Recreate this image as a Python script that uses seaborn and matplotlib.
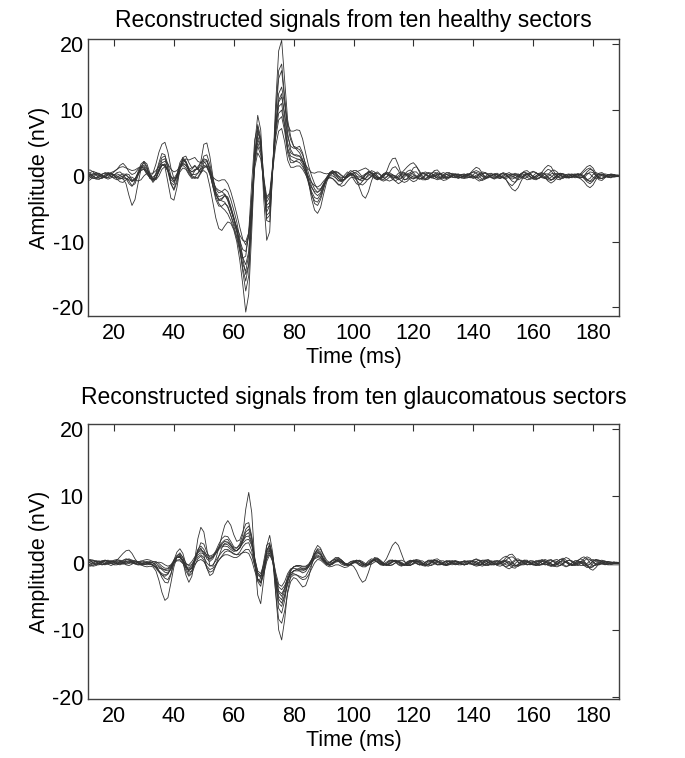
import numpy as np
import pandas as pd
import matplotlib
matplotlib.use("Agg")
import matplotlib.pyplot as plt
import seaborn as sns

# ---------------- data (amplitude in nV, sampled every 1 ms from t = 11 ms) ----------------
t_start = 11

healthy_1 = [0.8, 0.9, 0.6, 0.1, -0.3, -0.4, -0.1, 0.3, 0.4, 0.1,
    -0.3, -0.5, -0.2, 0.3, 0.2, -0.6, -0.8, 0.2, 1.5, 2.0,
    1.2, -0.2, -1.0, -0.4, 1.0, 2.4, 2.6, 1.0, -1.2, -2.0,
    -0.6, 1.4, 2.6, 2.0, 0.6, 0.0, 0.8, 1.2, 0.6, 0.8,
    0.4, -1.6, -4.0, -6.4, -8.0, -8.3, -7.6, -7.0, -7.2, -8.2,
    -10.0, -12.8, -16.5, -20.7, -18.0, -8.5, 2.5, 7.8, 5.8, -3.5,
    -9.8, -8.5, 1.0, 11.0, 19.0, 20.6, 14.5, 8.5, 6.0, 4.5,
    4.3, 4.5, 3.5, 1.6, -1.0, -3.5, -5.2, -5.7, -4.8, -2.8,
    -1.0, 0.2, 0.4, -0.2, -0.8, -0.6, 0.1, 0.6, 0.3, -0.5,
    -1.2, -1.4, -0.8, 0.2, 0.7, 0.4, -0.3, -0.6, -0.2, 0.3,
    0.4, 0.0, -0.5, -0.8, -0.4, 0.3, 0.5, 0.2, -0.3, -0.5,
    -0.2, 0.3, 0.5, 0.2, -0.2, -0.3, 0.0, 0.3, 0.2, -0.2,
    -0.4, -0.1, 0.2, 0.3, 0.0, -0.3, -0.3, 0.1, 0.4, 0.6,
    0.4, -0.1, -0.5, -0.4, 0.0, 0.3, 0.2, -0.2, -0.4, -0.1,
    0.3, 0.5, 0.2, -0.3, -0.6, -0.4, 0.1, 0.4, 0.3, -0.1,
    -0.4, -0.3, 0.1, 0.6, 1.0, 0.8, 0.1, -0.5, -0.6, -0.2,
    0.2, 0.3, 0.0, -0.3, -0.2, 0.2, 0.6, 1.0, 1.2, 0.8,
    0.0, -0.6, -0.7, -0.3, 0.1, 0.3, 0.2, 0.0, -0.1]

healthy_2 = [0.2, 0.5, 0.7, 0.5, 0.1, -0.2, -0.2, 0.1, 0.3, 0.2,
    0.0, -0.3, -0.5, -0.4, -0.8, -1.5, -1.2, 0.0, 1.2, 1.4,
    0.6, -0.4, -0.6, 0.4, 2.0, 3.4, 3.2, 1.2, -1.0, -1.4,
    0.2, 2.0, 2.8, 2.2, 1.2, 1.0, 1.5, 1.0, 2.2, 4.8,
    5.0, 3.0, 0.0, -2.6, -3.8, -3.6, -3.0, -3.2, -4.6, -6.2,
    -8.0, -10.8, -14.5, -17.5, -15.2, -6.0, 4.8, 9.2, 7.0, -1.0,
    -6.8, -7.0, 0.5, 9.5, 16.0, 17.0, 12.0, 7.5, 5.5, 4.5,
    4.0, 3.5, 2.5, 1.0, -0.8, -2.8, -4.2, -4.5, -3.6, -2.0,
    -0.5, 0.5, 0.8, 0.3, -0.4, -0.8, -0.5, 0.3, 0.8, 0.6,
    0.0, -0.6, -0.8, -0.4, 0.3, 0.8, 0.6, 0.0, -0.5, -0.6,
    -0.2, 0.5, 1.2, 1.4, 0.8, -0.1, -0.6, -0.5, 0.1, 0.6,
    0.6, 0.1, -0.4, -0.5, -0.1, 0.4, 0.6, 0.3, -0.2, -0.4,
    -0.2, 0.2, 0.4, 0.2, -0.2, -0.3, 0.0, 0.3, 0.3, 0.0,
    -0.3, -0.2, 0.2, 0.5, 0.3, -0.2, -0.5, -0.3, 0.2, 0.5,
    0.3, -0.3, -0.8, -1.0, -0.5, 0.2, 0.6, 0.4, -0.1, -0.4,
    -0.3, 0.1, 0.4, 0.3, -0.2, -0.6, -0.5, 0.0, 0.4, 0.3,
    -0.1, -0.3, -0.1, 0.2, 0.3, 0.1, -0.4, -0.9, -1.2, -0.8,
    -0.1, 0.4, 0.5, 0.2, -0.2, -0.3, -0.1, 0.1, 0.1]

healthy_3 = [-0.5, -0.3, 0.1, 0.4, 0.4, 0.1, -0.3, -0.5, -0.3, 0.1,
    0.5, 0.6, 0.2, -0.4, -1.2, -1.6, -0.8, 0.6, 1.8, 2.2,
    1.4, 0.0, -0.8, -0.4, 0.8, 1.8, 1.4, -1.0, -3.4, -3.7,
    -1.8, 1.0, 2.8, 3.0, 2.0, 1.2, 1.6, 1.0, 0.4, 1.2,
    1.6, 0.4, -1.6, -3.2, -4.2, -4.8, -5.2, -5.8, -6.8, -8.0,
    -9.5, -11.5, -14.0, -16.0, -13.5, -5.0, 3.5, 7.0, 5.2, -1.8,
    -6.5, -6.0, 1.5, 9.0, 14.8, 16.0, 11.5, 6.5, 4.0, 3.2,
    3.2, 3.0, 2.2, 0.8, -0.8, -2.4, -3.3, -3.5, -2.8, -1.6,
    -0.6, -0.2, -0.4, -0.9, -1.4, -1.2, -0.5, 0.2, 0.4, 0.1,
    -0.6, -1.8, -3.0, -3.4, -2.4, -0.8, 0.4, 0.6, 0.2, -0.2,
    -0.2, 0.1, 0.2, -0.1, -0.4, -0.3, 0.1, 0.3, 0.1, -0.2,
    -0.3, 0.0, 0.3, 0.3, 0.0, -0.2, -0.1, 0.2, 0.4, 0.2,
    -0.2, -0.3, -0.1, 0.2, 0.3, 0.1, -0.2, -0.3, -0.2, 0.2,
    0.5, 0.4, -0.1, -0.4, -0.3, 0.1, 0.3, 0.2, -0.1, -0.3,
    -0.6, -1.2, -1.5, -1.0, -0.2, 0.4, 0.5, 0.2, -0.2, -0.3,
    0.0, 0.3, 0.2, -0.2, -0.6, -0.7, -0.3, 0.2, 0.3, 0.1,
    -0.2, -0.3, -0.1, 0.2, 0.3, 0.1, -0.3, -0.7, -0.8, -0.4,
    0.1, 0.3, 0.2, -0.1, -0.2, 0.0, 0.2, 0.1, 0.0]

healthy_4 = [0.0, 0.2, 0.3, 0.2, 0.0, -0.2, -0.1, 0.2, 0.5, 0.7,
    1.0, 1.6, 1.9, 1.4, 0.6, 0.2, 0.4, 1.0, 1.4, 1.0,
    0.2, -0.2, 0.4, 1.8, 3.6, 4.8, 5.1, 3.6, 1.2, -0.4,
    -0.2, 1.0, 2.0, 2.6, 2.4, 2.6, 2.8, 2.2, 2.0, 2.6,
    2.4, 1.2, -0.6, -2.0, -2.6, -2.4, -2.0, -2.4, -3.6, -5.2,
    -7.0, -9.5, -12.5, -15.0, -13.5, -6.5, 2.0, 6.5, 5.5, 0.0,
    -4.8, -4.6, 1.0, 7.5, 12.5, 13.5, 10.8, 7.8, 6.8, 6.8,
    7.0, 6.9, 5.6, 3.5, 1.5, 0.0, -1.2, -2.0, -2.0, -1.4,
    -0.6, 0.0, 0.4, 0.6, 0.4, 0.0, -0.3, -0.2, 0.2, 0.5,
    0.4, 0.0, -0.4, -0.4, 0.0, 0.4, 0.3, -0.2, -0.5, -0.2,
    0.6, 1.8, 2.6, 2.7, 1.6, 0.2, -0.6, -0.4, 0.4, 1.2,
    1.4, 0.8, 0.0, -0.4, -0.2, 0.3, 0.8, 0.9, 0.4, -0.2,
    -0.4, -0.2, 0.1, 0.3, 0.2, -0.1, -0.2, 0.0, 0.4, 0.9,
    1.3, 1.1, 0.4, -0.2, -0.3, 0.0, 0.2, 0.1, -0.2, -0.3,
    -0.1, 0.2, 0.3, 0.1, -0.2, -0.2, 0.1, 0.3, 0.2, -0.1,
    -0.2, 0.1, 0.6, 1.2, 1.6, 1.4, 0.6, -0.1, -0.4, -0.2,
    0.1, 0.2, 0.0, -0.2, 0.0, 0.4, 0.9, 1.4, 1.6, 1.2,
    0.4, -0.2, -0.4, -0.2, 0.1, 0.2, 0.1, 0.0, 0.0]

healthy_5 = [0.4, 0.2, -0.1, -0.4, -0.5, -0.3, 0.1, 0.4, 0.3, 0.0,
    -0.2, -0.2, 0.0, 0.1, -0.3, -0.9, -0.6, 0.4, 1.3, 1.6,
    1.0, 0.0, -0.6, -0.2, 0.8, 1.6, 1.8, 0.8, -0.6, -1.0,
    0.0, 1.4, 2.0, 1.6, 0.8, 0.2, 0.2, 0.4, 1.2, 2.4,
    2.4, 1.0, -1.0, -2.8, -3.6, -3.4, -3.0, -3.6, -5.0, -6.6,
    -8.6, -11.0, -13.4, -14.5, -12.0, -4.0, 3.5, 6.0, 4.6, -1.5,
    -6.0, -5.5, 1.0, 7.5, 11.5, 12.5, 9.0, 5.0, 3.5, 3.2,
    3.0, 3.0, 2.4, 1.2, -0.2, -1.6, -2.6, -3.0, -2.6, -1.4,
    -0.4, 0.3, 0.6, 0.4, 0.0, -0.3, -0.2, 0.2, 0.4, 0.2,
    -0.3, -0.6, -0.4, 0.1, 0.5, 0.6, 0.2, -0.3, -0.4, 0.0,
    0.4, 0.5, 0.2, -0.3, -0.6, -0.4, 0.2, 0.7, 0.9, 0.5,
    -0.1, -0.5, -0.4, 0.0, 0.4, 0.4, 0.0, -0.4, -0.5, -0.2,
    0.2, 0.4, 0.2, -0.1, -0.3, -0.2, 0.1, 0.3, 0.2, -0.1,
    -0.5, -0.8, -0.6, -0.1, 0.3, 0.4, 0.1, -0.2, -0.2, 0.1,
    0.3, 0.2, -0.1, -0.3, -0.1, 0.3, 0.7, 0.8, 0.4, -0.2,
    -0.5, -0.4, 0.0, 0.3, 0.3, 0.0, -0.3, -0.2, 0.1, 0.3,
    0.2, -0.1, -0.3, -0.1, 0.2, 0.3, 0.0, -0.5, -0.9, -0.7,
    -0.2, 0.2, 0.3, 0.1, -0.1, -0.2, 0.0, 0.1, 0.1]

healthy_6 = [-0.8, -0.6, -0.2, 0.2, 0.3, 0.1, -0.2, -0.3, -0.1, 0.2,
    0.3, 0.1, -0.2, -0.4, -0.6, -0.8, -0.4, 0.4, 1.0, 1.0,
    0.4, -0.4, -0.6, 0.2, 1.6, 2.8, 3.0, 1.8, 0.0, -0.8,
    0.0, 1.6, 2.4, 2.0, 1.0, 0.6, 1.0, 1.0, 1.6, 3.0,
    3.2, 1.8, -0.4, -2.4, -3.2, -3.0, -2.8, -3.4, -4.8, -6.4,
    -8.0, -10.2, -12.4, -13.5, -11.5, -4.5, 2.8, 5.5, 4.4, -0.8,
    -4.5, -4.0, 1.5, 7.5, 11.2, 12.0, 9.5, 6.0, 4.5, 4.2,
    4.2, 4.0, 3.2, 1.8, 0.4, -1.0, -2.0, -2.5, -2.2, -1.2,
    -0.2, 0.4, 0.5, 0.1, -0.4, -0.7, -0.5, 0.0, 0.5, 0.8,
    0.8, 0.4, -0.2, -0.6, -0.5, -0.1, 0.3, 0.4, 0.1, -0.3,
    -0.6, -0.8, -0.6, -0.1, 0.4, 0.6, 0.4, -0.1, -0.6, -0.9,
    -0.7, -0.1, 0.4, 0.6, 0.4, 0.0, -0.4, -0.6, -0.4, 0.1,
    0.5, 0.5, 0.2, -0.2, -0.4, -0.2, 0.1, 0.2, 0.0, -0.2,
    -0.2, 0.1, 0.4, 0.4, 0.1, -0.2, -0.3, -0.1, 0.2, 0.3,
    0.1, -0.3, -0.5, -0.3, 0.1, 0.3, 0.2, -0.2, -0.5, -0.4,
    0.0, 0.4, 0.5, 0.2, -0.3, -0.6, -0.4, 0.1, 0.4, 0.3,
    0.0, -0.3, -0.2, 0.1, 0.3, 0.2, -0.2, -0.6, -0.4, 0.2,
    0.5, 0.3, 0.0, -0.2, -0.1, 0.1, 0.2, 0.0, -0.1]

healthy_7 = [0.6, 0.4, 0.0, -0.3, -0.2, 0.2, 0.5, 0.4, 0.0, -0.4,
    -0.6, -0.4, -0.4, -1.2, -3.0, -4.5, -3.6, -1.2, 1.0, 2.2,
    1.8, 0.4, -0.6, -0.4, 0.6, 1.6, 1.8, 0.6, -1.2, -2.2,
    -1.0, 1.0, 2.4, 2.2, 1.0, 0.0, -0.2, -0.4, 0.4, 2.0,
    2.2, 0.8, -1.6, -3.6, -4.6, -4.6, -4.2, -4.6, -6.0, -7.6,
    -9.2, -11.0, -12.5, -12.2, -8.5, -1.0, 5.5, 7.5, 5.0, -1.5,
    -5.5, -4.5, 1.5, 7.0, 10.5, 11.0, 7.8, 4.2, 3.0, 2.8,
    2.6, 2.5, 1.8, 0.4, -1.2, -2.8, -3.8, -4.0, -3.2, -1.8,
    -0.5, 0.4, 0.8, 0.5, -0.1, -0.5, -0.6, -0.2, 0.2, 0.0,
    -0.4, -0.6, -0.3, 0.3, 0.6, 0.4, -0.1, -0.4, -0.2, 0.3,
    0.6, 0.3, -0.3, -0.8, -1.2, -0.9, -0.2, 0.3, 0.5, 0.2,
    -0.3, -0.5, -0.3, 0.2, 0.5, 0.4, 0.0, -0.3, -0.2, 0.1,
    0.2, 0.1, -0.2, -0.3, -0.1, 0.2, 0.3, 0.1, -0.2, -0.4,
    -0.2, 0.3, 0.6, 0.5, 0.1, -0.3, -0.4, -0.1, 0.3, 0.4,
    0.1, -0.2, -0.2, 0.1, 0.3, 0.1, -0.3, -0.6, -0.5, 0.0,
    0.4, 0.3, -0.1, -0.4, -0.5, -0.2, 0.2, 0.4, 0.2, -0.1,
    -0.3, -0.1, 0.2, 0.3, 0.1, -0.2, -0.3, 0.2, 0.6, 0.5,
    0.0, -0.4, -0.4, -0.1, 0.2, 0.2, 0.0, -0.1, 0.0]

healthy_8 = [0.1, -0.2, -0.4, -0.3, 0.0, 0.3, 0.4, 0.2, -0.1, -0.3,
    -0.2, 0.1, 0.3, 0.2, -0.3, -0.7, -0.5, 0.2, 0.8, 1.0,
    0.6, 0.0, -0.2, 0.2, 1.0, 1.6, 1.6, 0.8, -0.2, -0.4,
    0.3, 1.2, 1.6, 1.2, 0.4, -0.2, -0.4, -0.2, 0.6, 1.4,
    1.3, 0.2, -1.4, -2.8, -3.6, -3.8, -4.0, -4.8, -6.0, -7.2,
    -8.4, -9.8, -11.2, -11.5, -9.2, -3.2, 2.5, 5.0, 3.8, -0.2,
    -3.2, -2.6, 1.8, 6.5, 9.5, 10.0, 7.5, 4.0, 2.5, 2.2,
    2.2, 2.0, 1.4, 0.6, -0.2, -1.0, -1.5, -1.7, -1.4, -0.8,
    -0.3, 0.0, 0.0, -0.3, -0.7, -0.9, -0.6, 0.0, 0.3, 0.2,
    -0.1, -0.2, 0.0, 0.3, 0.3, 0.0, -0.4, -0.6, -0.4, 0.0,
    0.3, 0.2, -0.1, -0.3, -0.2, 0.1, 0.3, 0.1, -0.2, -0.4,
    -0.3, 0.1, 0.4, 0.3, 0.0, -0.3, -0.4, -0.1, 0.3, 0.5,
    0.3, 0.0, -0.2, -0.2, 0.0, 0.2, 0.2, -0.1, -0.3, -0.2,
    0.1, 0.2, 0.0, -0.2, -0.2, 0.0, 0.3, 0.4, 0.1, -0.3,
    -0.4, -0.2, 0.2, 0.4, 0.2, -0.2, -0.4, -0.2, 0.3, 0.6,
    0.5, 0.1, -0.3, -0.4, -0.1, 0.3, 0.4, 0.1, -0.3, -0.4,
    -0.1, 0.2, 0.3, 0.0, -0.3, -0.3, 0.0, 0.4, 0.3, -0.2,
    -0.4, -0.2, 0.1, 0.3, 0.2, 0.0, -0.2, -0.1, 0.0]

healthy_9 = [-0.3, 0.0, 0.3, 0.5, 0.3, 0.0, -0.3, -0.2, 0.2, 0.6,
    1.0, 1.3, 1.4, 1.2, 1.0, 0.8, 0.9, 1.2, 1.4, 1.2,
    0.8, 0.4, 0.4, 0.8, 1.4, 2.0, 2.2, 1.8, 1.0, 0.6,
    0.8, 1.4, 1.8, 1.6, 1.0, 0.6, 0.8, 1.4, 2.0, 2.2,
    1.6, 0.6, -0.2, -0.6, -0.8, -0.6, -0.6, -1.2, -2.4, -4.0,
    -5.8, -7.8, -9.6, -10.5, -9.0, -4.0, 1.8, 4.5, 3.2, -1.0,
    -4.0, -3.2, 1.0, 5.8, 8.5, 9.0, 6.8, 3.5, 2.0, 2.0,
    2.4, 2.5, 2.2, 1.6, 1.0, 0.5, 0.4, 0.6, 0.6, 0.4,
    0.3, 0.4, 0.6, 0.7, 0.5, 0.1, -0.2, -0.2, 0.1, 0.4,
    0.6, 0.8, 1.0, 1.2, 0.9, 0.3, -0.2, -0.4, -0.2, 0.2,
    0.3, 0.0, -0.3, -0.3, 0.0, 0.4, 0.9, 1.4, 1.8, 2.0,
    1.5, 0.6, -0.2, -0.6, -0.5, -0.1, 0.3, 0.5, 0.3, 0.0,
    -0.2, -0.2, 0.0, 0.2, 0.2, 0.0, -0.1, 0.0, 0.3, 0.6,
    0.8, 0.6, 0.2, -0.1, -0.2, 0.0, 0.2, 0.2, 0.0, -0.2,
    -0.2, 0.0, 0.2, 0.2, 0.0, -0.2, -0.1, 0.2, 0.5, 0.7,
    0.5, 0.1, -0.2, -0.2, 0.2, 0.7, 0.9, 0.6, 0.1, -0.2,
    -0.2, 0.0, 0.2, 0.1, -0.2, -0.3, 0.0, 0.6, 1.0, 0.8,
    0.2, -0.3, -0.4, -0.2, 0.1, 0.2, 0.1, 0.0, 0.0]

healthy_10 = [0.2, 0.0, -0.3, -0.5, -0.5, -0.2, 0.2, 0.5, 0.4, 0.0,
    -0.5, -0.9, -1.0, -0.6, -0.2, -0.2, -0.5, -0.8, -0.6, 0.0,
    0.4, 0.2, -0.4, -0.6, 0.0, 1.0, 1.4, 0.8, -0.2, -0.8,
    -0.4, 0.6, 1.2, 1.0, 0.2, -0.4, -0.2, 0.4, 1.0, 1.6,
    1.4, 0.4, -0.8, -1.8, -2.2, -2.4, -2.8, -3.8, -5.2, -6.6,
    -7.8, -9.0, -9.8, -10.0, -8.6, -3.8, 1.2, 3.5, 2.6, -0.8,
    -3.5, -2.8, 0.8, 4.5, 6.8, 7.2, 5.2, 2.4, 1.3, 1.3,
    1.5, 1.5, 1.0, 0.2, -0.8, -1.8, -2.4, -2.5, -2.0, -1.2,
    -0.6, -0.3, -0.4, -0.8, -1.3, -1.6, -1.4, -0.8, -0.3, -0.2,
    -0.6, -1.2, -1.4, -1.0, -0.4, 0.0, 0.1, -0.2, -0.6, -0.8,
    -0.6, -0.2, 0.1, 0.0, -0.4, -0.8, -1.0, -0.8, -0.3, 0.0,
    0.0, -0.3, -0.6, -0.6, -0.4, 0.0, 0.2, 0.0, -0.4, -0.7,
    -0.6, -0.3, 0.0, 0.1, -0.1, -0.3, -0.4, -0.3, -0.1, 0.0,
    -0.2, -0.5, -0.7, -0.5, -0.2, 0.0, -0.1, -0.3, -0.4, -0.2,
    -0.6, -1.4, -2.0, -2.3, -1.8, -0.8, 0.0, 0.2, -0.1, -0.5,
    -0.6, -0.3, -0.1, -0.3, -0.8, -1.1, -0.8, -0.3, 0.0, -0.1,
    -0.3, -0.3, -0.1, 0.0, -0.2, -0.5, -0.9, -1.5, -1.8, -1.4,
    -0.6, 0.0, 0.2, 0.0, -0.2, -0.2, 0.0, 0.1, 0.0]

glauc_1 = [0.3, 0.5, 0.4, 0.1, -0.2, -0.3, -0.1, 0.2, 0.3, 0.2,
    0.0, -0.2, 0.0, 0.4, 0.6, 0.4, 0.0, -0.3, -0.3, -0.1,
    0.1, 0.2, 0.0, -0.3, -0.6, -1.0, -1.4, -1.5, -1.0, 0.0,
    0.8, 1.0, 0.4, -0.6, -1.2, -0.8, 0.6, 2.0, 2.5, 2.0,
    1.0, 0.5, 0.8, 1.6, 2.4, 3.0, 3.4, 3.5, 2.8, 2.2,
    2.2, 2.8, 4.2, 8.0, 10.5, 7.5, 0.5, -4.8, -6.1, -2.5,
    2.5, 4.1, 1.5, -4.5, -10.0, -11.5, -8.5, -4.2, -2.0, -1.2,
    -1.0, -1.2, -1.5, -1.3, -0.6, 0.4, 1.4, 1.8, 1.3, 0.4,
    -0.2, 0.0, 0.4, 0.5, 0.2, -0.2, -0.4, -0.2, 0.2, 0.3,
    0.0, -0.4, -0.5, -0.2, 0.3, 0.6, 0.5, 0.1, -0.3, -0.4,
    -0.1, 0.3, 0.4, 0.2, -0.2, -0.4, -0.2, 0.2, 0.4, 0.2,
    -0.1, -0.3, -0.2, 0.1, 0.3, 0.2, -0.1, -0.3, -0.2, 0.1,
    0.3, 0.2, -0.1, -0.3, -0.2, 0.1, 0.3, 0.2, -0.1, -0.3,
    -0.3, 0.0, 0.3, 0.3, 0.0, -0.3, -0.3, 0.0, 0.4, 0.8,
    1.0, 0.7, 0.1, -0.4, -0.5, -0.2, 0.2, 0.3, 0.1, -0.2,
    -0.3, -0.1, 0.2, 0.3, 0.1, -0.2, -0.3, -0.1, 0.2, 0.3,
    0.1, -0.2, -0.3, -0.1, 0.3, 0.7, 0.9, 0.6, 0.0, -0.4,
    -0.4, -0.1, 0.2, 0.2, 0.0, -0.2, -0.1, 0.0, 0.1]

glauc_2 = [-0.4, -0.2, 0.1, 0.3, 0.2, 0.0, -0.2, -0.1, 0.2, 0.4,
    0.5, 0.3, 0.0, -0.2, -0.1, 0.1, 0.2, 0.0, -0.3, -0.5,
    -0.6, -0.5, -0.6, -1.2, -2.6, -4.4, -5.6, -5.2, -3.0, -0.6,
    0.8, 1.2, 0.2, -1.8, -2.9, -2.0, 0.6, 3.6, 5.3, 4.6,
    2.0, -0.4, -0.5, 0.6, 2.2, 4.0, 5.6, 6.3, 5.6, 4.2,
    3.2, 3.4, 4.6, 5.8, 6.0, 4.0, 0.2, -2.5, -2.4, 0.2,
    2.6, 3.0, 0.5, -4.5, -8.4, -9.0, -7.2, -4.5, -2.8, -2.2,
    -2.4, -3.0, -3.6, -3.4, -2.2, -0.4, 1.2, 2.0, 1.6, 0.6,
    -0.2, -0.4, -0.1, 0.3, 0.4, 0.2, -0.1, -0.3, -0.3, -0.5,
    -1.2, -2.2, -2.9, -2.6, -1.4, 0.0, 0.8, 0.7, 0.2, -0.2,
    -0.3, -0.1, 0.2, 0.3, 0.1, -0.2, -0.3, -0.1, 0.2, 0.4,
    0.3, 0.0, -0.3, -0.4, -0.2, 0.2, 0.5, 0.6, 0.3, -0.1,
    -0.3, -0.2, 0.1, 0.3, 0.2, -0.1, -0.3, -0.2, 0.1, 0.4,
    0.5, 0.3, -0.1, -0.4, -0.4, -0.1, 0.2, 0.3, 0.1, -0.3,
    -0.7, -0.9, -0.6, -0.1, 0.3, 0.4, 0.1, -0.2, -0.3, -0.1,
    0.2, 0.4, 0.3, -0.1, -0.4, -0.5, -0.2, 0.2, 0.5, 0.5,
    0.1, -0.3, -0.4, -0.2, 0.1, 0.2, 0.0, -0.4, -0.8, -0.6,
    -0.1, 0.3, 0.4, 0.2, -0.1, -0.2, -0.1, 0.0, 0.0]

glauc_3 = [0.0, -0.3, -0.5, -0.4, -0.1, 0.2, 0.3, 0.1, -0.1, 0.0,
    0.4, 0.9, 1.4, 1.8, 1.9, 1.4, 0.6, 0.0, -0.3, -0.3,
    -0.1, 0.1, 0.0, -0.4, -1.2, -2.2, -2.9, -3.0, -1.8, 0.4,
    1.6, 2.1, 1.4, -0.2, -1.4, -1.2, 0.2, 1.8, 3.0, 2.8,
    1.6, 0.8, 1.0, 1.8, 2.8, 3.6, 4.0, 3.9, 3.2, 2.4,
    2.2, 2.6, 3.6, 5.0, 5.5, 3.8, 0.2, -2.8, -3.5, -1.2,
    1.8, 2.8, 1.0, -3.2, -6.8, -7.5, -5.6, -2.8, -1.2, -0.6,
    -0.5, -0.6, -0.9, -1.0, -0.6, 0.4, 1.8, 2.6, 2.2, 1.0,
    0.0, -0.4, -0.2, 0.3, 0.6, 0.4, 0.0, -0.3, -0.3, 0.0,
    0.3, 0.3, 0.0, -0.3, -0.2, 0.2, 0.4, 0.2, -0.1, 0.0,
    0.6, 1.6, 2.6, 3.1, 2.6, 1.4, 0.2, -0.4, -0.4, 0.0,
    0.3, 0.3, 0.0, -0.3, -0.3, 0.0, 0.3, 0.3, 0.0, -0.3,
    -0.3, 0.0, 0.3, 0.3, 0.0, -0.2, -0.2, 0.1, 0.3, 0.2,
    -0.1, -0.3, -0.2, 0.1, 0.3, 0.2, -0.1, -0.2, 0.0, 0.3,
    0.8, 1.2, 1.3, 0.8, 0.1, -0.3, -0.3, 0.0, 0.3, 0.3,
    0.0, -0.3, -0.3, 0.0, 0.3, 0.4, 0.1, -0.3, -0.4, -0.1,
    0.2, 0.4, 0.3, 0.0, -0.1, 0.2, 0.6, 0.9, 0.7, 0.2,
    -0.2, -0.3, -0.1, 0.1, 0.2, 0.1, 0.0, -0.1, 0.0]

glauc_4 = [0.5, 0.3, 0.0, -0.2, -0.1, 0.2, 0.4, 0.3, 0.0, -0.2,
    -0.1, 0.2, 0.4, 0.6, 0.5, 0.2, -0.1, -0.2, -0.1, 0.1,
    0.2, 0.0, -0.3, -0.6, -1.2, -1.8, -2.3, -2.5, -1.6, -0.2,
    1.0, 1.5, 0.8, -0.8, -1.8, -1.2, 0.4, 1.8, 2.2, 1.2,
    -0.8, -1.9, -1.6, -0.4, 1.0, 2.2, 2.9, 3.0, 2.6, 2.0,
    1.8, 2.3, 3.4, 4.6, 5.0, 3.6, 0.8, -1.5, -2.0, -0.5,
    1.8, 2.5, 0.8, -3.0, -6.0, -6.5, -5.0, -2.8, -1.6, -1.2,
    -1.0, -0.8, -0.8, -0.8, -0.5, 0.2, 1.0, 1.5, 1.2, 0.5,
    0.0, 0.0, 0.3, 0.6, 0.7, 0.4, 0.0, -0.3, -0.2, 0.1,
    0.3, 0.2, -0.1, -0.3, -0.1, 0.3, 0.6, 0.5, 0.1, -0.3,
    -0.4, -0.2, 0.1, 0.3, 0.2, -0.1, -0.3, -0.2, 0.1, 0.3,
    0.2, -0.1, -0.4, -0.5, -0.2, 0.2, 0.4, 0.3, 0.0, -0.2,
    -0.2, 0.0, 0.2, 0.2, 0.0, -0.2, -0.3, -0.1, 0.2, 0.4,
    0.6, 0.4, 0.0, -0.3, -0.3, 0.0, 0.3, 0.3, 0.0, -0.4,
    -0.6, -0.4, 0.1, 0.5, 0.6, 0.3, -0.1, -0.3, -0.2, 0.1,
    0.3, 0.2, -0.1, -0.3, -0.2, 0.1, 0.4, 0.5, 0.2, -0.2,
    -0.5, -0.4, 0.0, 0.3, 0.3, 0.0, -0.4, -0.7, -0.6, -0.1,
    0.3, 0.4, 0.2, -0.1, -0.2, -0.1, 0.1, 0.1, 0.0]

glauc_5 = [-0.2, 0.1, 0.3, 0.3, 0.1, -0.2, -0.3, -0.1, 0.2, 0.3,
    0.2, 0.0, -0.2, -0.1, 0.2, 0.4, 0.3, 0.0, -0.2, -0.2,
    -0.1, -0.2, -0.4, -0.8, -1.4, -1.8, -2.0, -1.7, -0.8, 0.2,
    0.8, 0.8, 0.2, -0.5, -0.8, -0.4, 0.6, 1.6, 2.0, 1.6,
    0.6, 0.2, 0.6, 1.4, 2.2, 2.8, 3.2, 3.1, 2.6, 2.0,
    1.8, 2.2, 3.2, 4.2, 4.5, 3.0, 0.0, -2.4, -3.0, -1.2,
    1.2, 2.0, 0.4, -2.8, -5.4, -6.0, -4.8, -3.2, -2.2, -1.8,
    -1.8, -2.0, -2.2, -2.0, -1.2, -0.2, 0.8, 1.2, 0.9, 0.3,
    -0.2, -0.3, 0.0, 0.4, 0.5, 0.2, -0.2, -0.4, -0.2, 0.2,
    0.4, 0.3, 0.0, -0.3, -0.3, 0.1, 0.5, 0.6, 0.3, -0.1,
    -0.3, -0.2, 0.1, 0.3, 0.3, 0.0, -0.3, -0.4, -0.1, 0.3,
    0.5, 0.4, 0.0, -0.3, -0.3, 0.0, 0.3, 0.3, 0.0, -0.3,
    -0.4, -0.2, 0.1, 0.3, 0.2, -0.1, -0.3, -0.2, 0.1, 0.3,
    0.2, -0.1, -0.3, -0.2, 0.1, 0.3, 0.2, -0.1, -0.2, 0.0,
    0.4, 0.8, 0.9, 0.6, 0.1, -0.2, -0.2, 0.1, 0.3, 0.2,
    -0.1, -0.3, -0.2, 0.1, 0.4, 0.5, 0.2, -0.2, -0.4, -0.2,
    0.2, 0.4, 0.2, -0.1, -0.3, -0.4, -0.4, -0.1, 0.3, 0.5,
    0.3, 0.0, -0.2, -0.2, 0.0, 0.1, 0.1, 0.0, 0.0]

glauc_6 = [0.7, 0.4, 0.0, -0.3, -0.3, 0.0, 0.3, 0.4, 0.2, 0.0,
    -0.1, 0.0, 0.3, 0.5, 0.4, 0.1, -0.1, 0.0, 0.2, 0.4,
    0.5, 0.4, 0.2, 0.0, -0.4, -0.8, -1.1, -1.2, -0.6, 0.4,
    1.1, 1.3, 0.8, 0.0, -0.5, -0.2, 0.5, 1.2, 1.5, 1.3,
    0.8, 0.6, 0.9, 1.4, 2.0, 2.4, 2.5, 2.4, 2.0, 1.7,
    1.8, 2.3, 3.2, 3.9, 4.0, 2.8, 0.4, -1.5, -2.0, -0.6,
    1.5, 2.2, 0.8, -2.4, -5.0, -5.5, -4.2, -2.4, -1.2, -0.6,
    -0.4, -0.4, -0.5, -0.5, -0.2, 0.5, 1.4, 2.1, 2.0, 1.2,
    0.4, 0.0, 0.0, 0.2, 0.3, 0.1, -0.2, -0.3, -0.1, 0.2,
    0.4, 0.2, -0.2, -0.4, -0.2, 0.2, 0.5, 0.4, 0.0, -0.3,
    -0.3, 0.0, 0.3, 0.4, 0.2, -0.2, -0.4, -0.3, 0.1, 0.4,
    0.4, 0.1, -0.2, -0.2, 0.1, 0.4, 0.4, 0.1, -0.2, -0.3,
    0.0, 0.3, 0.3, 0.0, -0.3, -0.3, 0.0, 0.3, 0.3, 0.0,
    -0.3, -0.4, -0.1, 0.3, 0.4, 0.1, -0.2, -0.3, 0.0, 0.3,
    0.4, 0.1, -0.3, -0.5, -0.3, 0.1, 0.4, 0.4, 0.0, -0.3,
    -0.4, -0.1, 0.3, 0.5, 0.3, -0.1, -0.4, -0.3, 0.1, 0.5,
    0.8, 0.6, 0.1, -0.3, -0.4, -0.1, 0.3, 0.6, 0.5, 0.1,
    -0.2, -0.3, -0.1, 0.1, 0.2, 0.1, 0.0, 0.0, 0.0]

glauc_7 = [0.1, 0.3, 0.4, 0.2, -0.1, -0.3, -0.2, 0.1, 0.3, 0.1,
    -0.2, -0.3, -0.1, 0.2, 0.3, 0.1, -0.2, -0.3, -0.2, 0.0,
    0.1, -0.1, -0.4, -0.6, -0.8, -0.9, -1.0, -0.9, -0.5, 0.0,
    0.4, 0.5, 0.0, -1.2, -2.0, -1.6, -0.4, 0.6, 1.0, 0.4,
    -0.8, -1.4, -1.2, -0.4, 0.4, 1.0, 1.6, 1.8, 1.6, 1.3,
    1.2, 1.6, 2.4, 2.9, 3.0, 1.8, -0.5, -2.4, -2.8, -1.4,
    0.6, 1.5, 0.2, -2.4, -4.2, -4.6, -3.8, -2.4, -1.5, -1.2,
    -1.2, -1.2, -1.2, -1.0, -0.6, 0.0, 0.6, 0.8, 0.6, 0.2,
    -0.1, -0.3, -0.2, 0.1, 0.2, 0.1, -0.1, -0.1, 0.1, 0.3,
    0.2, -0.1, -0.3, -0.2, 0.1, 0.4, 0.4, 0.1, -0.2, -0.3,
    -0.1, 0.2, 0.4, 0.3, 0.0, -0.3, -0.3, 0.0, 0.3, 0.3,
    0.0, -0.3, -0.3, 0.0, 0.3, 0.3, 0.0, -0.3, -0.3, 0.0,
    0.3, 0.3, 0.0, -0.2, -0.2, 0.0, 0.2, 0.2, 0.0, -0.3,
    -0.5, -0.4, 0.0, 0.4, 0.5, 0.2, -0.2, -0.3, -0.1, 0.2,
    0.2, -0.1, -0.4, -0.5, -0.2, 0.2, 0.4, 0.2, -0.1, -0.3,
    -0.2, 0.1, 0.3, 0.2, -0.2, -0.5, -0.5, -0.2, 0.2, 0.3,
    0.1, -0.2, -0.3, 0.0, 0.4, 0.6, 0.3, -0.3, -0.9, -1.1,
    -0.7, -0.1, 0.3, 0.3, 0.0, -0.2, -0.1, 0.0, 0.0]

glauc_8 = [-0.6, -0.4, -0.1, 0.2, 0.3, 0.1, -0.1, -0.2, 0.0, 0.2,
    0.4, 0.4, 0.2, 0.0, 0.0, 0.2, 0.3, 0.2, 0.0, -0.2,
    -0.2, 0.0, 0.2, 0.2, -0.1, -0.5, -0.8, -0.8, -0.3, 0.4,
    0.8, 0.8, 0.3, -0.2, -0.3, 0.2, 0.9, 1.5, 1.8, 1.6,
    1.2, 1.0, 1.2, 1.6, 2.2, 2.6, 2.8, 2.7, 2.3, 1.9,
    1.8, 2.2, 2.9, 3.4, 3.5, 2.6, 0.6, -1.2, -1.6, -0.2,
    1.8, 2.6, 1.2, -1.8, -4.4, -5.0, -3.8, -2.0, -1.0, -0.6,
    -0.4, -0.4, -0.6, -0.6, -0.3, 0.4, 1.2, 1.6, 1.3, 0.6,
    0.1, 0.1, 0.4, 0.8, 0.8, 0.4, -0.1, -0.3, -0.2, 0.0,
    0.1, -0.1, -0.4, -0.5, -0.2, 0.2, 0.3, 0.1, -0.2, -0.2,
    0.1, 0.4, 0.4, 0.1, -0.3, -0.5, -0.3, 0.1, 0.3, 0.2,
    -0.1, -0.3, -0.2, 0.1, 0.4, 0.4, 0.1, -0.2, -0.2, 0.0,
    0.2, 0.2, 0.0, -0.2, -0.1, 0.1, 0.3, 0.2, -0.1, -0.3,
    -0.2, 0.1, 0.4, 0.4, 0.1, -0.2, -0.3, -0.1, 0.2, 0.3,
    0.1, -0.3, -0.7, -0.8, -0.4, 0.1, 0.3, 0.1, -0.2, -0.3,
    0.0, 0.3, 0.5, 0.3, -0.1, -0.4, -0.3, 0.1, 0.5, 0.7,
    0.4, -0.1, -0.4, -0.3, 0.0, 0.2, 0.1, -0.2, -0.2, 0.2,
    0.5, 0.4, 0.1, -0.2, -0.2, 0.0, 0.1, 0.0, 0.0]

glauc_9 = [0.2, 0.0, -0.2, -0.2, 0.0, 0.3, 0.4, 0.2, -0.1, -0.3,
    -0.3, -0.1, 0.1, 0.2, 0.1, -0.1, -0.1, 0.1, 0.3, 0.2,
    0.0, -0.2, -0.2, 0.0, 0.1, 0.0, -0.3, -0.5, -0.3, 0.0,
    0.3, 0.3, -0.1, -0.7, -1.0, -0.8, -0.2, 0.3, 0.5, 0.2,
    -0.5, -1.0, -0.8, -0.2, 0.4, 0.9, 1.2, 1.2, 1.0, 0.8,
    0.8, 1.1, 1.6, 2.0, 2.0, 1.2, -0.4, -1.8, -2.2, -1.0,
    0.8, 1.8, 0.8, -1.4, -3.2, -3.5, -2.8, -1.6, -0.9, -0.8,
    -0.9, -1.0, -1.0, -0.8, -0.4, 0.2, 0.7, 1.0, 0.8, 0.3,
    -0.1, -0.2, 0.0, 0.3, 0.3, 0.0, -0.3, -0.4, -0.2, 0.1,
    0.3, 0.4, 0.2, -0.1, -0.3, -0.2, 0.1, 0.3, 0.2, -0.1,
    -0.3, -0.4, -0.3, 0.0, 0.3, 0.4, 0.2, -0.1, -0.3, -0.2,
    0.1, 0.3, 0.3, 0.0, -0.3, -0.4, -0.2, 0.1, 0.3, 0.3,
    0.1, -0.2, -0.3, -0.1, 0.1, 0.2, 0.1, -0.1, -0.2, -0.1,
    0.2, 0.4, 0.3, 0.0, -0.3, -0.3, 0.0, 0.3, 0.3, 0.0,
    -0.3, -0.4, -0.1, 0.3, 0.4, 0.2, -0.1, -0.3, -0.2, 0.1,
    0.3, 0.2, -0.1, -0.3, -0.2, 0.1, 0.3, 0.2, -0.1, -0.4,
    -0.6, -0.4, 0.0, 0.3, 0.3, 0.0, -0.3, -0.5, -0.2, 0.3,
    0.5, 0.3, -0.1, -0.3, -0.2, 0.0, 0.1, 0.0, 0.0]

glauc_10 = [-0.3, -0.5, -0.4, -0.1, 0.2, 0.3, 0.1, -0.2, -0.4, -0.2,
    0.1, 0.2, 0.0, -0.3, -0.4, -0.2, 0.1, 0.2, 0.0, -0.2,
    -0.3, -0.2, -0.3, -0.7, -1.2, -1.6, -1.8, -1.6, -0.8, 0.2,
    0.8, 1.0, 0.4, -0.6, -1.0, -0.6, 0.2, 0.9, 1.2, 0.8,
    0.0, -0.5, -0.3, 0.3, 1.0, 1.6, 2.0, 2.0, 1.7, 1.4,
    1.2, 1.3, 1.5, 1.6, 1.4, 0.4, -1.2, -2.6, -3.0, -1.8,
    0.2, 1.2, 0.2, -2.0, -3.6, -4.0, -3.4, -2.4, -1.8, -1.6,
    -1.8, -2.2, -2.5, -2.4, -1.8, -0.9, 0.0, 0.5, 0.4, 0.0,
    -0.4, -0.6, -0.5, -0.3, -0.3, -0.5, -0.7, -0.6, -0.3, 0.0,
    0.0, -0.3, -0.6, -0.6, -0.3, 0.2, 0.6, 0.7, 0.4, 0.0,
    -0.3, -0.4, -0.3, 0.0, 0.2, 0.1, -0.2, -0.4, -0.4, -0.1,
    0.2, 0.2, -0.1, -0.4, -0.5, -0.3, 0.0, 0.2, 0.1, -0.2,
    -0.4, -0.3, 0.0, 0.2, 0.1, -0.2, -0.3, -0.2, 0.1, 0.2,
    0.0, -0.3, -0.5, -0.3, 0.0, 0.1, -0.1, -0.4, -0.5, -0.3,
    0.0, 0.2, 0.0, -0.3, -0.5, -0.3, 0.0, 0.2, 0.1, -0.2,
    -0.4, -0.4, -0.2, 0.0, 0.0, -0.2, -0.5, -0.6, -0.4, 0.0,
    0.2, 0.0, -0.3, -0.4, -0.2, 0.0, -0.1, -0.4, -0.7, -0.5,
    -0.2, 0.0, 0.0, -0.2, -0.3, -0.3, -0.3, -0.3, -0.3]

healthy = [healthy_1, healthy_2, healthy_3, healthy_4, healthy_5,
           healthy_6, healthy_7, healthy_8, healthy_9, healthy_10]
glaucomatous = [glauc_1, glauc_2, glauc_3, glauc_4, glauc_5,
                glauc_6, glauc_7, glauc_8, glauc_9, glauc_10]

titles = ["Reconstructed signals from ten healthy sectors",
          "Reconstructed signals from ten glaucomatous sectors"]
x_ticks = [20, 40, 60, 80, 100, 120, 140, 160, 180]
y_ticks = [-20, -10, 0, 10, 20]
x_label = "Time (ms)"
y_label = "Amplitude (nV)"


def to_frame(traces):
    rows = []
    for i, tr in enumerate(traces):
        for k, v in enumerate(tr):
            rows.append((i, t_start + k, v))
    return pd.DataFrame(rows, columns=["sector", "time", "amp"])


# ---------------- figure ----------------
sns.set_theme(style="white")
plt.rcParams["font.family"] = ["Liberation Sans", "DejaVu Sans"]
plt.rcParams["text.color"] = "black"
plt.rcParams["axes.labelcolor"] = "black"
plt.rcParams["axes.unicode_minus"] = False

W, H = 685, 758
fig = plt.figure(figsize=(W / 100, H / 100), dpi=100)
fig.patch.set_facecolor("white")


def px_axes(left, top, right, bottom):
    return fig.add_axes([left / W, 1 - bottom / H, (right - left) / W, (bottom - top) / H])


panels = [
    (healthy, (88, 39, 619, 316), (-21.3, 20.8), 8.5),
    (glaucomatous, (88, 424, 619, 699), (-20.3, 20.7), 14.5),
]

fs = 15.5
for (traces, box, ylim, tpad), title in zip(panels, titles):
    ax = px_axes(*box)
    df = to_frame(traces)
    sns.lineplot(data=df, x="time", y="amp", units="sector", estimator=None,
                 color="#333333", linewidth=0.6, ax=ax, legend=False)
    ax.set_xlim(11.3, 188.7)
    ax.set_ylim(*ylim)
    ax.set_xticks(x_ticks)
    ax.set_yticks(y_ticks)
    ax.tick_params(axis="both", direction="in", top=True, right=True, length=5, width=0.8,
                   colors="#303030", labelcolor="black", labelsize=fs)
    ax.tick_params(axis="x", pad=5)
    ax.tick_params(axis="y", pad=3)
    for s in ax.spines.values():
        s.set_visible(True)
        s.set_color("#404040")
        s.set_linewidth(1.0)
    ax.set_xlabel(x_label, fontsize=fs, labelpad=2, color="black")
    ax.set_ylabel(y_label, fontsize=fs, labelpad=2, color="black")
    ax.set_title(title, fontsize=16.5, pad=tpad, color="black")
    ax.grid(False)
    ax.set_facecolor("white")

fig.savefig("out.png", dpi=100, facecolor="white")
